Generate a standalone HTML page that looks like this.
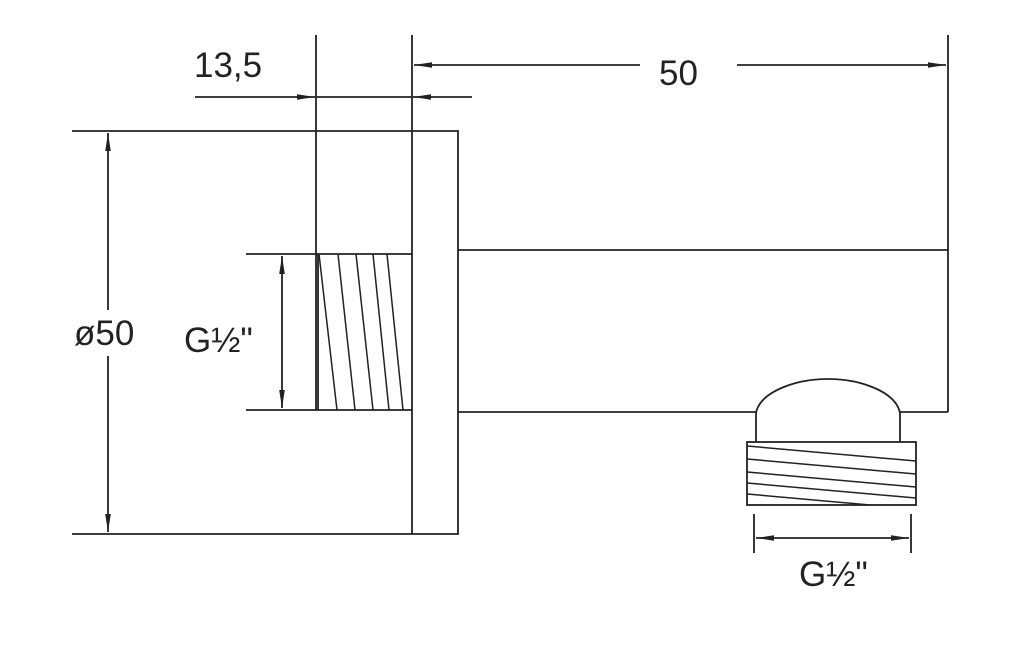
<!DOCTYPE html>
<html><head><style>body{margin:0;background:#fff}svg{display:block}</style></head><body>
<svg width="1024" height="670" viewBox="0 0 1024 670" xmlns="http://www.w3.org/2000/svg">
<defs>
<marker id="a" viewBox="0 0 10 10" preserveAspectRatio="none" refX="10" refY="5" markerWidth="18" markerHeight="7" markerUnits="userSpaceOnUse" orient="auto-start-reverse"><path d="M0,1L10,5L0,9z" fill="#222"/></marker>
</defs>
<g stroke="#222" stroke-width="1.8" fill="none">
<path d="M72,131H458V534H72"/>
<line x1="412" y1="35" x2="412" y2="534"/>
<line x1="316" y1="35" x2="316" y2="410"/>
<line x1="246" y1="254" x2="412" y2="254"/>
<line x1="246" y1="410" x2="412" y2="410"/>
<line x1="318" y1="254" x2="318" y2="410"/>
<g stroke-width="1.5">
<line x1="319" y1="254" x2="337" y2="410"/>
<line x1="338" y1="254" x2="355" y2="410"/>
<line x1="356" y1="254" x2="373" y2="410"/>
<line x1="373" y1="254" x2="389" y2="410"/>
<line x1="387" y1="254" x2="403" y2="410"/>
</g>
<path d="M458,250H948"/>
<line x1="948" y1="35" x2="948" y2="412"/>
<path d="M458,412H756M900,412H948"/>
<path d="M756,442V413C760,392 795,379 828,379C861,379 896,392 900,413V442"/>
<rect x="747" y="442" width="169" height="63"/>
<g stroke-width="1.5">
<line x1="747" y1="446" x2="916" y2="461"/>
<line x1="747" y1="459" x2="916" y2="474"/>
<line x1="747" y1="472" x2="916" y2="487"/>
<line x1="747" y1="483" x2="916" y2="498"/>
<line x1="747" y1="494" x2="870" y2="505"/>
</g>
<line x1="754" y1="514" x2="754" y2="553"/>
<line x1="911" y1="514" x2="911" y2="553"/>
<line x1="756" y1="538" x2="909" y2="538" marker-start="url(#a)" marker-end="url(#a)"/>
<line x1="640" y1="65" x2="414" y2="65" marker-end="url(#a)"/>
<line x1="737" y1="65" x2="946" y2="65" marker-end="url(#a)"/>
<line x1="195" y1="97" x2="315" y2="97" marker-end="url(#a)"/>
<line x1="472" y1="97" x2="413" y2="97" marker-end="url(#a)"/>
<line x1="316" y1="97" x2="412" y2="97"/>
<line x1="108" y1="310" x2="108" y2="133" marker-end="url(#a)"/>
<line x1="108" y1="356" x2="108" y2="532" marker-end="url(#a)"/>
<line x1="282" y1="256" x2="282" y2="408" marker-start="url(#a)" marker-end="url(#a)"/>
</g>
<g font-family="Liberation Sans, sans-serif" font-size="35" fill="#222">
<text x="194" y="77">13,5</text>
<text x="659" y="85">50</text>
<text x="74" y="345">ø50</text>
<text x="184" y="352">G½"</text>
<text x="799" y="586">G½"</text>
</g>
</svg>
</body></html>
